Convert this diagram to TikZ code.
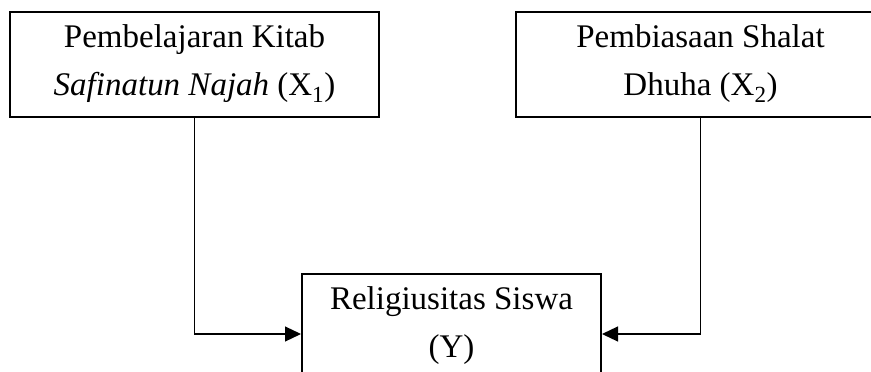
\documentclass[tikz,border=0pt]{standalone}
\usepackage{fontspec}
\setmainfont{Liberation Serif}
\usepackage{tikz}
\usetikzlibrary{shapes,arrows.meta,calc}
\tikzstyle{line} = [draw, line width=1.2pt, -{Triangle[length=16pt,width=15pt]}]
\tikzstyle{block} = [draw, rectangle, line width=2pt, text centered, align=center, minimum width=369pt, minimum height=105pt, font=\fontsize{33}{48}\selectfont]
\begin{document}
\begin{tikzpicture}[x=1pt, y=1pt, node distance = 506pt, auto]
        \useasboundingbox (0,0) rectangle (871,-372);
        \clip (0,0) rectangle (871,-372);
        \node[block] (kitab) at (194.5,-64) {Pembelajaran Kitab\\\textit{Safinatun Najah} (X\textsubscript{1})};
        \node[block, right of=kitab] (dhuha) {Pembiasaan Shalat\\Dhuha (X\textsubscript{2})};
        \node[block, minimum width=299pt, minimum height=104pt] (religi) at (451.5,-326) {Religiusitas Siswa\\(Y)};
        \path[line] (kitab.south) |- ([yshift=-8pt]religi.west);
        \path[line] (dhuha.south) |- ([yshift=-8pt]religi.east);
    \end{tikzpicture}
\end{document}
